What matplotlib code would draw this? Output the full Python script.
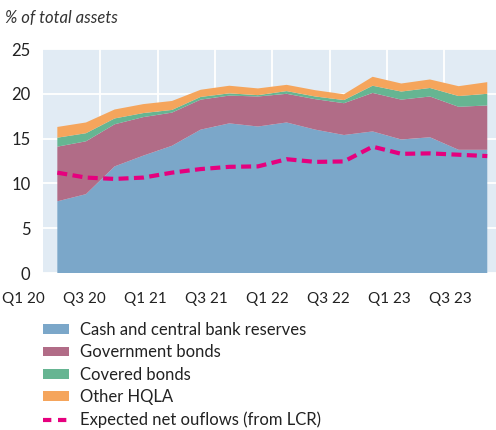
import numpy as np
import matplotlib
matplotlib.use('Agg')
import matplotlib.pyplot as plt
from matplotlib.patches import Patch
from matplotlib.lines import Line2D

plt.rcParams['font.family'] = ['Lato', 'DejaVu Sans']

# Quarterly data, Q1 2020 to Q4 2023 (% of total assets)
quarters = ['Q1 20', 'Q2 20', 'Q3 20', 'Q4 20', 'Q1 21', 'Q2 21', 'Q3 21', 'Q4 21',
            'Q1 22', 'Q2 22', 'Q3 22', 'Q4 22', 'Q1 23', 'Q2 23', 'Q3 23', 'Q4 23']
cash = [8.0, 8.8, 11.9, 13.1, 14.2, 16.0, 16.7, 16.35, 16.8, 16.0, 15.4, 15.8, 14.9, 15.15, 13.75, 13.75]
gov_bonds = [6.1, 5.9, 4.7, 4.3, 3.7, 3.35, 3.1, 3.35, 3.2, 3.4, 3.55, 4.3, 4.45, 4.55, 4.8, 4.95]
covered_bonds = [1.0, 0.9, 0.65, 0.45, 0.3, 0.3, 0.25, 0.15, 0.3, 0.3, 0.35, 0.8, 0.9, 0.95, 1.2, 1.3]
other_hqla = [1.2, 1.2, 1.0, 1.0, 1.0, 0.8, 0.85, 0.75, 0.7, 0.7, 0.65, 1.0, 0.9, 0.95, 1.1, 1.3]
net_outflows = [11.2, 10.65, 10.5, 10.65, 11.2, 11.6, 11.85, 11.9, 12.7, 12.4, 12.45, 14.1, 13.3, 13.35, 13.2, 13.05]

tick_labels = ['Q1 20', 'Q3 20', 'Q1 21', 'Q3 21', 'Q1 22', 'Q3 22', 'Q1 23', 'Q3 23']

colors = ['#7ba7c9', '#b16c87', '#66b592', '#f5a55c']
line_color = '#e6007e'
names = ['Cash and central bank reserves', 'Government bonds', 'Covered bonds', 'Other HQLA']

FS = 12

fig = plt.figure(figsize=(4.96, 4.30), dpi=100)
ax = fig.add_axes([43 / 496, 1 - 273 / 430, (501.6 - 43) / 496, 224 / 430])
ax.set_facecolor('#e1ebf4')

x = np.arange(len(quarters))
ax.stackplot(x, cash, gov_bonds, covered_bonds, other_hqla, colors=colors, linewidth=0, zorder=2)
ax.plot(x, net_outflows, color=line_color, lw=3.0, dashes=(2.4, 1.3), zorder=3)

ax.set_xlim(-0.5, 15.5)
ax.set_ylim(0, 25)
ax.set_yticks([0, 5, 10, 15, 20, 25])
ax.set_xticks(np.arange(1.5, 15, 2))
ax.set_xticklabels([])
ax.grid(True, color='white', lw=1.3, zorder=0)
ax.set_axisbelow(True)
ax.tick_params(length=0, labelsize=FS, pad=9, colors='#222222')
for s in ax.spines.values():
    s.set_visible(False)

# quarter labels laid out under the chart
for k, lab in enumerate(tick_labels):
    ax.text(-1.2 + 2.13 * k, -0.118, lab, transform=ax.get_xaxis_transform(),
            ha='center', va='center', fontsize=11, color='#222222')

fig.text(5 / 496, 1 - 18 / 430, '% of total assets', style='italic', fontsize=FS,
         ha='left', va='center', color='#333333')

handles = [Patch(facecolor=c, edgecolor='none') for c in colors]
handles.append(Line2D([0], [0], color=line_color, lw=3.0, dashes=(2.0, 1.6)))
labels = names + ['Expected net ouflows (from LCR)']
fig.legend(handles, labels, loc='upper left', bbox_to_anchor=(43 / 496, 1 - 322 / 430),
           frameon=False, fontsize=FS, handlelength=1.55, handleheight=0.5,
           handletextpad=0.65, labelspacing=0.38, borderpad=0, borderaxespad=0,
           labelcolor='#222222')

fig.savefig('out.png', dpi=100)
